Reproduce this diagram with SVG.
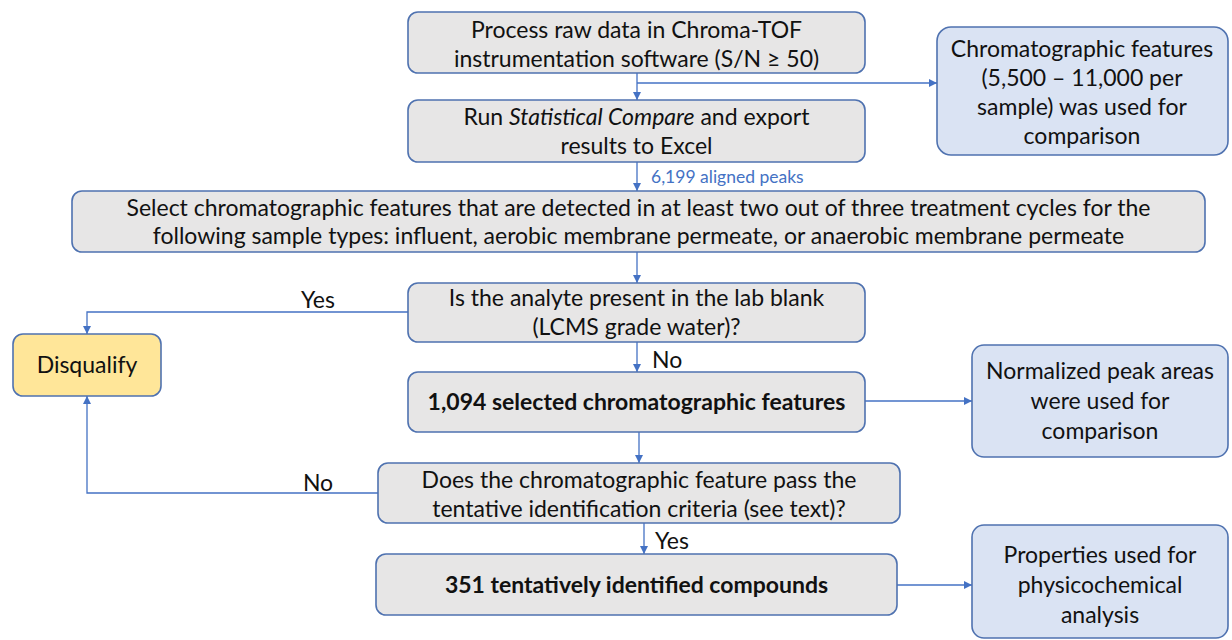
<svg xmlns="http://www.w3.org/2000/svg" width="1232" height="640" viewBox="0 0 1232 640">
<defs>
<marker id="arr" viewBox="0 0 10 10" refX="10" refY="5" markerWidth="8" markerHeight="8" markerUnits="userSpaceOnUse" orient="auto">
<path d="M0,0 L10,5 L0,10 z" fill="#4472c4"/>
</marker>
<style>
.g{fill:#e7e6e6;stroke:#4f72b0;stroke-width:1.6}
.b{fill:#dae3f3;stroke:#4f72b0;stroke-width:1.6}
.y{fill:#ffe699;stroke:#4f72b0;stroke-width:1.6}
text{font-family:Lato,"Open Sans","Liberation Sans",sans-serif;font-size:23px;fill:#111;text-anchor:middle}
.bold{font-weight:bold}
.lbl{text-anchor:start}
.blue{fill:#4472c4;font-size:17.5px;text-anchor:start}
.c{fill:none;stroke:#4472c4;stroke-width:1.3;marker-end:url(#arr)}
</style>
</defs>
<rect width="1232" height="640" fill="#ffffff"/>
<g id="connectors">
<path class="c" d="M637,73 V100"/>
<path class="c" d="M637,83 H937"/>
<path class="c" d="M637,162 V191"/>
<path class="c" d="M637,252 V283"/>
<path class="c" d="M408,312 H87 V334"/>
<path class="c" d="M637,342 V372"/>
<path class="c" d="M865,401 H972"/>
<path class="c" d="M639,432 V463"/>
<path class="c" d="M378,493 H87 V396"/>
<path class="c" d="M644,523 V554"/>
<path class="c" d="M897,585 H972"/>
<text class="blue" x="651" y="183">6,199 aligned peaks</text>
<text x="318" y="308">Yes</text>
<text class="lbl" x="652" y="368">No</text>
<text x="318" y="491">No</text>
<text class="lbl" x="655" y="549">Yes</text>
</g>
<g id="n1">
<rect class="g" x="408" y="12" width="457" height="61" rx="10"/>
<text x="636.5" y="38">Process raw data in Chroma-TOF</text>
<text x="636.5" y="67">instrumentation software (S/N ≥ 50)</text>
</g>
<g id="n2">
<rect class="g" x="408" y="100" width="457" height="62" rx="10"/>
<text x="636.5" y="125">Run <tspan font-style="italic">Statistical Compare</tspan> and export</text>
<text x="636.5" y="154">results to Excel</text>
</g>
<g id="n3">
<rect class="g" x="72" y="191" width="1133" height="61" rx="10"/>
<text x="638.5" y="216">Select chromatographic features that are detected in at least two out of three treatment cycles for the</text>
<text x="638.5" y="244">following sample types: influent, aerobic membrane permeate, or anaerobic membrane permeate</text>
</g>
<g id="n4">
<rect class="g" x="408" y="283" width="457" height="59" rx="10"/>
<text x="636.5" y="306">Is the analyte present in the lab blank</text>
<text x="636.5" y="335">(LCMS grade water)?</text>
</g>
<g id="n5">
<rect class="g" x="408" y="372" width="457" height="60" rx="10"/>
<text class="bold" x="636.5" y="410">1,094 selected chromatographic features</text>
</g>
<g id="n6">
<rect class="g" x="378" y="463" width="522" height="60" rx="10"/>
<text x="639" y="488">Does the chromatographic feature pass the</text>
<text x="639" y="517">tentative identification criteria (see text)?</text>
</g>
<g id="n7">
<rect class="g" x="376" y="554" width="521" height="61" rx="10"/>
<text class="bold" x="636.5" y="593">351 tentatively identified compounds</text>
</g>
<g id="disqualify">
<rect class="y" x="13" y="334" width="148" height="62" rx="10"/>
<text x="87" y="373">Disqualify</text>
</g>
<g id="r1">
<rect class="b" x="937" y="27" width="291" height="128" rx="14"/>
<text x="1082" y="57">Chromatographic features</text>
<text x="1082" y="86">(5,500 – 11,000 per</text>
<text x="1082" y="115">sample) was used for</text>
<text x="1082" y="144">comparison</text>
</g>
<g id="r2">
<rect class="b" x="972" y="345" width="256" height="112" rx="12"/>
<text x="1100" y="379">Normalized peak areas</text>
<text x="1100" y="409">were used for</text>
<text x="1100" y="439">comparison</text>
</g>
<g id="r3">
<rect class="b" x="972" y="525" width="256" height="113" rx="12"/>
<text x="1100" y="563">Properties used for</text>
<text x="1100" y="593">physicochemical</text>
<text x="1100" y="623">analysis</text>
</g>
</svg>
